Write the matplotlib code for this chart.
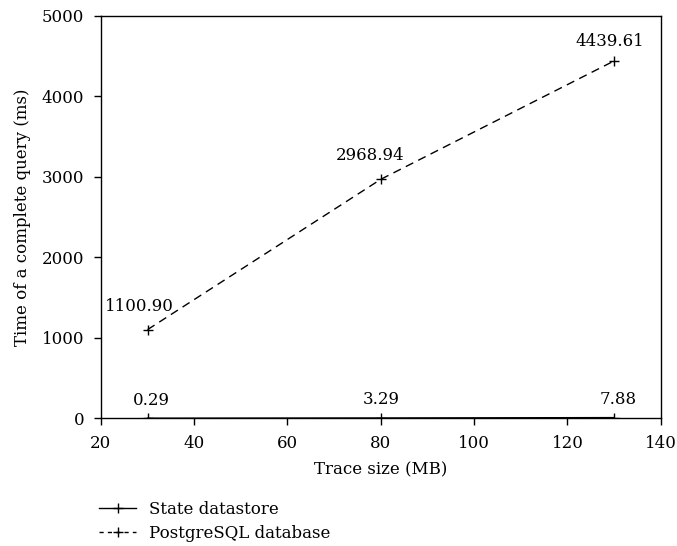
import matplotlib
matplotlib.use("Agg")
import matplotlib.pyplot as plt
from matplotlib.lines import Line2D

plt.rcParams['font.family'] = ['DejaVu Serif']
plt.rcParams['font.size'] = 12

trace_size = [30, 80, 130]
state_datastore = [0.29, 3.29, 7.88]
postgres_db = [1100.90, 2968.94, 4439.61]

fig = plt.figure(figsize=(6.77, 5.46), dpi=100)
ax = fig.add_axes([0.149, 0.234, 0.827, 0.737])

ax.plot(trace_size, state_datastore, color='black', linestyle='-', linewidth=1,
        marker='+', markersize=7, markeredgewidth=1)
ax.plot(trace_size, postgres_db, color='black', linestyle=(0, (6, 4)), linewidth=1,
        marker='+', markersize=7, markeredgewidth=1)

# label offsets in points, nudged to sit like the original
state_off = [(3, 13), (0, 13), (3, 13)]
pg_off = [(-6, 17), (-8, 17), (-3, 14)]
for x, y, off in zip(trace_size, state_datastore, state_off):
    ax.annotate('%.2f' % y, (x, y), textcoords='offset points', xytext=off,
                ha='center', va='center')
for x, y, off in zip(trace_size, postgres_db, pg_off):
    ax.annotate('%.2f' % y, (x, y), textcoords='offset points', xytext=off,
                ha='center', va='center')

ax.set_xlim(20, 140)
ax.set_ylim(0, 5000)
ax.set_xticks(range(20, 141, 20))
ax.set_yticks(range(0, 5001, 1000))
ax.tick_params(direction='out', length=5, width=1, pad=7, top=False, right=False)
for s in ax.spines.values():
    s.set_linewidth(1)
ax.set_xlabel('Trace size (MB)', labelpad=7)
ax.set_ylabel('Time of a complete query (ms)', labelpad=8)

handles = [
    Line2D([], [], color='black', linestyle='-', linewidth=1, marker='+', markersize=7),
    Line2D([], [], color='black', linestyle=(0, (3, 3)), linewidth=1, marker='+', markersize=7),
]
fig.legend(handles, ['State datastore', 'PostgreSQL database'], loc='upper left',
           bbox_to_anchor=(0.137, 0.095), frameon=False, handlelength=2.2,
           labelspacing=0.45, borderaxespad=0)

fig.savefig('out.png', dpi=100)
